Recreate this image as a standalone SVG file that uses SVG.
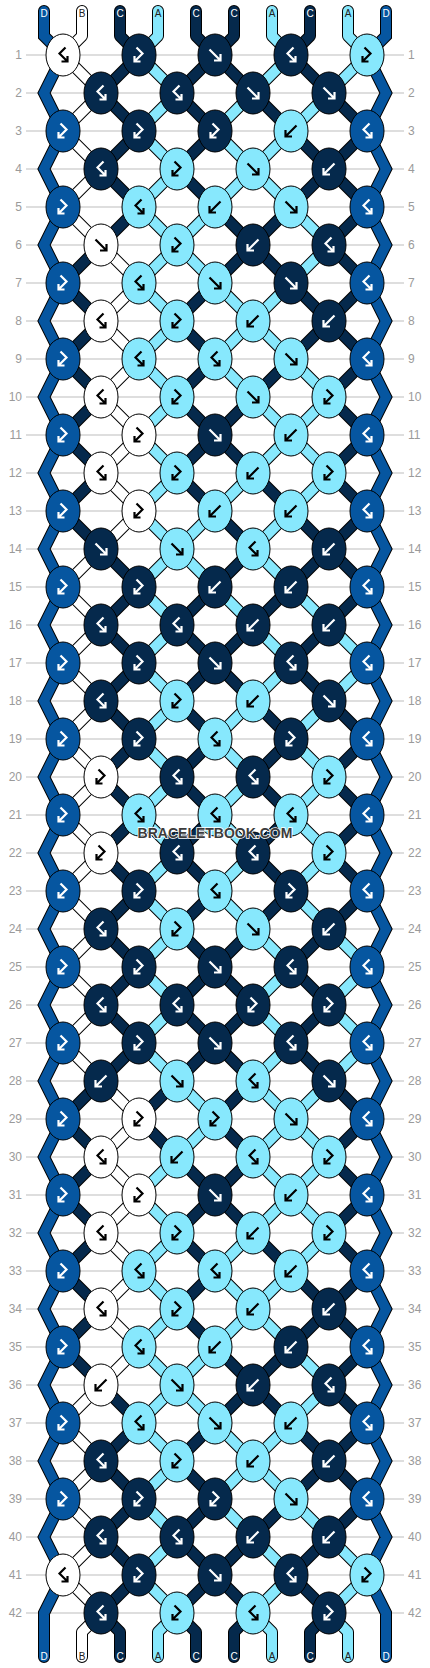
<svg xmlns="http://www.w3.org/2000/svg" xmlns:xlink="http://www.w3.org/1999/xlink" width="430" height="1668" viewBox="0 0 430 1668">
<style>
.grid{stroke:#bdbdbd;stroke-width:1}
.num{font-family:"Liberation Sans",Arial,sans-serif;font-size:12px;fill:#9a9a9a}
.lbl{font-family:"Liberation Sans",Arial,sans-serif;font-size:10px;text-anchor:middle}
.lw{fill:#fff}.lk{fill:#222}
.ol{fill:none;stroke:#000;stroke-width:12}
.olt{fill:none;stroke:#000;stroke-width:12;stroke-linecap:round;stroke-linejoin:round}
.ole{fill:none;stroke:#000;stroke-width:12;stroke-linecap:round;stroke-linejoin:miter}
.s{fill:none;stroke-width:10}
.st{fill:none;stroke-width:10;stroke-linecap:round;stroke-linejoin:round}
.se{fill:none;stroke-width:10;stroke-linecap:round;stroke-linejoin:miter}
.cW{stroke:#fff}.cN{stroke:#05294c}.cL{stroke:#87e8fd}.cB{stroke:#0656a0}
ellipse{stroke:#000;stroke-width:1}
.W{fill:#fff}.N{fill:#05294c}.L{fill:#87e8fd}.B{fill:#0656a0}
.gk,.gw{fill:none;stroke-width:2.2;stroke-linejoin:miter}
.gk{stroke:#000}.gw{stroke:#fff}
.wm{font-family:"Liberation Sans",Arial,sans-serif;font-weight:bold;font-size:14px;text-anchor:middle;fill:#3c3c3c;stroke:#fff;stroke-width:1.6;paint-order:stroke}
</style>
<defs>
<path id="f" d="M-5.5-5.5L4.5 4.5M5.5-1V5.5H-1"/>
<path id="b" d="M5.5-5.5L-4.5 4.5M-5.5-1V5.5H1"/>
<path id="fb" d="M-2.5-7.5L3.5-1.5L-3.5 5.5M-4.5 1V6.5H1.5"/>
<path id="bf" d="M2.5-7.5L-3.5-1.5L3.5 5.5M4.5 1V6.5H-1.5"/>
<path id="pW" d="M63 55l38 38M101 93l-38 38M63 131l38 38M101 169l-38 38M63 207l38 38M101 245l38 38M139 283l-38 38M101 321l38 38M139 359l-38 38M101 397l38 38M139 435l-38 38M101 473l38 38M139 511l-38 38M101 549l-38 38M63 587l38 38M101 625l-38 38M63 663l38 38M101 701l-38 38M63 739l38 38M101 777l-38 38M63 815l38 38M101 853l-38 38M63 891l38 38M101 929l-38 38M63 967l38 38M101 1005l-38 38M63 1043l38 38M101 1081l38 38M139 1119l-38 38M101 1157l38 38M139 1195l-38 38M101 1233l38 38M139 1271l-38 38M101 1309l38 38M139 1347l-38 38M101 1385l-38 38M63 1423l38 38M101 1461l-38 38M63 1499l38 38M101 1537l-38 38M63 1575l38 38"/>
<path id="pN" d="M139 55l-38 38M215 55l-38 38M215 55l38 38M291 55l38 38M101 93l38 38M177 93l38 38M253 93l38 38M329 93l38 38M139 131l-38 38M215 131l-38 38M291 131l38 38M367 131l-38 38M101 169l38 38M177 169l38 38M329 169l-38 38M329 169l38 38M139 207l-38 38M215 207l38 38M291 207l-38 38M367 207l-38 38M101 245l-38 38M253 245l-38 38M253 245l38 38M329 245l38 38M63 283l38 38M215 283l-38 38M291 283l38 38M367 283l-38 38M101 321l-38 38M177 321l38 38M329 321l-38 38M329 321l38 38M63 359l38 38M215 359l-38 38M291 359l-38 38M367 359l-38 38M101 397l-38 38M177 397l38 38M253 397l-38 38M329 397l38 38M63 435l38 38M215 435l-38 38M215 435l38 38M367 435l-38 38M101 473l-38 38M177 473l38 38M253 473l38 38M329 473l38 38M63 511l38 38M215 511l38 38M291 511l38 38M367 511l-38 38M101 549l38 38M253 549l-38 38M329 549l-38 38M329 549l38 38M139 587l-38 38M215 587l-38 38M291 587l-38 38M367 587l-38 38M101 625l38 38M177 625l38 38M253 625l-38 38M329 625l-38 38M139 663l-38 38M215 663l-38 38M215 663l38 38M291 663l38 38M101 701l38 38M177 701l38 38M253 701l38 38M329 701l38 38M139 739l-38 38M215 739l-38 38M291 739l-38 38M367 739l-38 38M101 777l38 38M177 777l38 38M253 777l38 38M329 777l38 38M139 815l-38 38M215 815l-38 38M291 815l-38 38M367 815l-38 38M101 853l38 38M177 853l38 38M253 853l38 38M329 853l38 38M139 891l-38 38M215 891l-38 38M291 891l-38 38M367 891l-38 38M101 929l38 38M177 929l38 38M253 929l-38 38M329 929l-38 38M139 967l-38 38M215 967l-38 38M215 967l38 38M291 967l38 38M101 1005l38 38M177 1005l38 38M253 1005l-38 38M329 1005l-38 38M139 1043l-38 38M215 1043l-38 38M215 1043l38 38M291 1043l38 38M101 1081l-38 38M177 1081l-38 38M253 1081l-38 38M329 1081l38 38M63 1119l38 38M139 1119l38 38M215 1119l38 38M367 1119l-38 38M101 1157l-38 38M177 1157l38 38M253 1157l-38 38M329 1157l38 38M63 1195l38 38M215 1195l-38 38M215 1195l38 38M367 1195l-38 38M101 1233l-38 38M177 1233l38 38M253 1233l38 38M329 1233l38 38M63 1271l38 38M215 1271l-38 38M291 1271l38 38M367 1271l-38 38M101 1309l-38 38M177 1309l38 38M329 1309l-38 38M329 1309l38 38M63 1347l38 38M215 1347l38 38M291 1347l-38 38M367 1347l-38 38M101 1385l38 38M253 1385l-38 38M253 1385l38 38M329 1385l38 38M139 1423l-38 38M215 1423l-38 38M291 1423l38 38M367 1423l-38 38M101 1461l38 38M177 1461l38 38M329 1461l-38 38M329 1461l38 38M139 1499l-38 38M215 1499l-38 38M291 1499l-38 38M367 1499l-38 38M101 1537l38 38M177 1537l38 38M253 1537l-38 38M329 1537l-38 38M139 1575l-38 38M215 1575l-38 38M215 1575l38 38M291 1575l38 38"/>
<path id="pL" d="M139 55l38 38M291 55l-38 38M367 55l-38 38M177 93l-38 38M253 93l-38 38M329 93l-38 38M139 131l38 38M215 131l38 38M291 131l-38 38M177 169l-38 38M253 169l-38 38M253 169l38 38M139 207l38 38M215 207l-38 38M291 207l38 38M177 245l-38 38M177 245l38 38M329 245l-38 38M139 283l38 38M215 283l38 38M291 283l-38 38M177 321l-38 38M253 321l-38 38M253 321l38 38M139 359l38 38M215 359l38 38M291 359l38 38M177 397l-38 38M253 397l38 38M329 397l-38 38M139 435l38 38M291 435l-38 38M291 435l38 38M177 473l-38 38M253 473l-38 38M329 473l-38 38M139 511l38 38M215 511l-38 38M291 511l-38 38M177 549l-38 38M177 549l38 38M253 549l38 38M139 587l38 38M215 587l38 38M291 587l38 38M177 625l-38 38M253 625l38 38M329 625l38 38M139 663l38 38M291 663l-38 38M367 663l-38 38M177 701l-38 38M253 701l-38 38M329 701l-38 38M139 739l38 38M215 739l38 38M291 739l38 38M177 777l-38 38M253 777l-38 38M329 777l-38 38M139 815l38 38M215 815l38 38M291 815l38 38M177 853l-38 38M253 853l-38 38M329 853l-38 38M139 891l38 38M215 891l38 38M291 891l38 38M177 929l-38 38M253 929l38 38M329 929l38 38M139 967l38 38M291 967l-38 38M367 967l-38 38M177 1005l-38 38M253 1005l38 38M329 1005l38 38M139 1043l38 38M291 1043l-38 38M367 1043l-38 38M177 1081l38 38M253 1081l38 38M329 1081l-38 38M215 1119l-38 38M291 1119l-38 38M291 1119l38 38M177 1157l-38 38M253 1157l38 38M329 1157l-38 38M139 1195l38 38M291 1195l-38 38M291 1195l38 38M177 1233l-38 38M253 1233l-38 38M329 1233l-38 38M139 1271l38 38M215 1271l38 38M291 1271l-38 38M177 1309l-38 38M253 1309l-38 38M253 1309l38 38M139 1347l38 38M215 1347l-38 38M291 1347l38 38M177 1385l-38 38M177 1385l38 38M329 1385l-38 38M139 1423l38 38M215 1423l38 38M291 1423l-38 38M177 1461l-38 38M253 1461l-38 38M253 1461l38 38M139 1499l38 38M215 1499l38 38M291 1499l38 38M177 1537l-38 38M253 1537l38 38M329 1537l38 38M139 1575l38 38M291 1575l-38 38M367 1575l-38 38"/>
<path id="tW" d="M82 11V36l-19 19M101 1613l-19 19V1657"/>
<path id="tN" d="M120 11V36l19 19M196 11V36l19 19M234 11V36l-19 19M310 11V36l-19 19M101 1613l19 19V1657M177 1613l19 19V1657M253 1613l-19 19V1657M329 1613l-19 19V1657"/>
<path id="tL" d="M158 11V36l-19 19M272 11V36l19 19M348 11V36l19 19M177 1613l-19 19V1657M253 1613l19 19V1657M329 1613l19 19V1657"/>
<path id="eB" d="M44 11V36l19 19l-19 38l19 38l-19 38l19 38l-19 38l19 38l-19 38l19 38l-19 38l19 38l-19 38l19 38l-19 38l19 38l-19 38l19 38l-19 38l19 38l-19 38l19 38l-19 38l19 38l-19 38l19 38l-19 38l19 38l-19 38l19 38l-19 38l19 38l-19 38l19 38l-19 38l19 38l-19 38l19 38l-19 38l19 38l-19 38l19 38l-19 38V1657M386 11V36l-19 19l19 38l-19 38l19 38l-19 38l19 38l-19 38l19 38l-19 38l19 38l-19 38l19 38l-19 38l19 38l-19 38l19 38l-19 38l19 38l-19 38l19 38l-19 38l19 38l-19 38l19 38l-19 38l19 38l-19 38l19 38l-19 38l19 38l-19 38l19 38l-19 38l19 38l-19 38l19 38l-19 38l19 38l-19 38l19 38l-19 38l19 38V1657"/>
</defs>
<rect width="430" height="1668" fill="#fff"/>
<g id="grid">
<path class="grid" d="M26 55H404M26 93H404M26 131H404M26 169H404M26 207H404M26 245H404M26 283H404M26 321H404M26 359H404M26 397H404M26 435H404M26 473H404M26 511H404M26 549H404M26 587H404M26 625H404M26 663H404M26 701H404M26 739H404M26 777H404M26 815H404M26 853H404M26 891H404M26 929H404M26 967H404M26 1005H404M26 1043H404M26 1081H404M26 1119H404M26 1157H404M26 1195H404M26 1233H404M26 1271H404M26 1309H404M26 1347H404M26 1385H404M26 1423H404M26 1461H404M26 1499H404M26 1537H404M26 1575H404M26 1613H404"/>
</g>
<g id="rownums-left" class="num" text-anchor="end">
<text x="22" y="59">1</text><text x="22" y="97">2</text><text x="22" y="135">3</text><text x="22" y="173">4</text><text x="22" y="211">5</text><text x="22" y="249">6</text><text x="22" y="287">7</text><text x="22" y="325">8</text><text x="22" y="363">9</text><text x="22" y="401">10</text><text x="22" y="439">11</text><text x="22" y="477">12</text><text x="22" y="515">13</text><text x="22" y="553">14</text><text x="22" y="591">15</text><text x="22" y="629">16</text><text x="22" y="667">17</text><text x="22" y="705">18</text><text x="22" y="743">19</text><text x="22" y="781">20</text><text x="22" y="819">21</text><text x="22" y="857">22</text><text x="22" y="895">23</text><text x="22" y="933">24</text><text x="22" y="971">25</text><text x="22" y="1009">26</text><text x="22" y="1047">27</text><text x="22" y="1085">28</text><text x="22" y="1123">29</text><text x="22" y="1161">30</text><text x="22" y="1199">31</text><text x="22" y="1237">32</text><text x="22" y="1275">33</text><text x="22" y="1313">34</text><text x="22" y="1351">35</text><text x="22" y="1389">36</text><text x="22" y="1427">37</text><text x="22" y="1465">38</text><text x="22" y="1503">39</text><text x="22" y="1541">40</text><text x="22" y="1579">41</text><text x="22" y="1617">42</text>
</g>
<g id="rownums-right" class="num" text-anchor="start">
<text x="408" y="59">1</text><text x="408" y="97">2</text><text x="408" y="135">3</text><text x="408" y="173">4</text><text x="408" y="211">5</text><text x="408" y="249">6</text><text x="408" y="287">7</text><text x="408" y="325">8</text><text x="408" y="363">9</text><text x="408" y="401">10</text><text x="408" y="439">11</text><text x="408" y="477">12</text><text x="408" y="515">13</text><text x="408" y="553">14</text><text x="408" y="591">15</text><text x="408" y="629">16</text><text x="408" y="667">17</text><text x="408" y="705">18</text><text x="408" y="743">19</text><text x="408" y="781">20</text><text x="408" y="819">21</text><text x="408" y="857">22</text><text x="408" y="895">23</text><text x="408" y="933">24</text><text x="408" y="971">25</text><text x="408" y="1009">26</text><text x="408" y="1047">27</text><text x="408" y="1085">28</text><text x="408" y="1123">29</text><text x="408" y="1161">30</text><text x="408" y="1199">31</text><text x="408" y="1237">32</text><text x="408" y="1275">33</text><text x="408" y="1313">34</text><text x="408" y="1351">35</text><text x="408" y="1389">36</text><text x="408" y="1427">37</text><text x="408" y="1465">38</text><text x="408" y="1503">39</text><text x="408" y="1541">40</text><text x="408" y="1579">41</text><text x="408" y="1617">42</text>
</g>
<g id="connectors">
<use href="#pW" class="ol"/><use href="#pN" class="ol"/><use href="#pL" class="ol"/>
<use href="#tW" class="olt"/><use href="#tN" class="olt"/><use href="#tL" class="olt"/>
<use href="#eB" class="ole"/>
<use href="#pW" class="s cW"/><use href="#pN" class="s cN"/><use href="#pL" class="s cL"/>
<use href="#tW" class="st cW"/><use href="#tN" class="st cN"/><use href="#tL" class="st cL"/>
<use href="#eB" class="se cB"/>
</g>
<g id="string-labels" class="lbl">
<text class="lw" x="44" y="17">D</text><text class="lk" x="82" y="17">B</text><text class="lw" x="120" y="17">C</text><text class="lk" x="158" y="17">A</text><text class="lw" x="196" y="17">C</text><text class="lw" x="234" y="17">C</text><text class="lk" x="272" y="17">A</text><text class="lw" x="310" y="17">C</text><text class="lk" x="348" y="17">A</text><text class="lw" x="386" y="17">D</text>
<text class="lw" x="44" y="1660">D</text><text class="lk" x="82" y="1660">B</text><text class="lw" x="120" y="1660">C</text><text class="lk" x="158" y="1660">A</text><text class="lw" x="196" y="1660">C</text><text class="lw" x="234" y="1660">C</text><text class="lk" x="272" y="1660">A</text><text class="lw" x="310" y="1660">C</text><text class="lk" x="348" y="1660">A</text><text class="lw" x="386" y="1660">D</text>
</g>
<g id="knots">
<g id="k1_1"><ellipse class="W" cx="63" cy="55" rx="17" ry="21"/><use href="#bf" class="gk" x="63" y="55"/></g>
<g id="k1_2"><ellipse class="N" cx="139" cy="55" rx="17" ry="21"/><use href="#fb" class="gw" x="139" y="55"/></g>
<g id="k1_3"><ellipse class="N" cx="215" cy="55" rx="17" ry="21"/><use href="#f" class="gw" x="215" y="55"/></g>
<g id="k1_4"><ellipse class="N" cx="291" cy="55" rx="17" ry="21"/><use href="#bf" class="gw" x="291" y="55"/></g>
<g id="k1_5"><ellipse class="L" cx="367" cy="55" rx="17" ry="21"/><use href="#fb" class="gk" x="367" y="55"/></g>
<g id="k2_1"><ellipse class="N" cx="101" cy="93" rx="17" ry="21"/><use href="#bf" class="gw" x="101" y="93"/></g>
<g id="k2_2"><ellipse class="N" cx="177" cy="93" rx="17" ry="21"/><use href="#bf" class="gw" x="177" y="93"/></g>
<g id="k2_3"><ellipse class="N" cx="253" cy="93" rx="17" ry="21"/><use href="#f" class="gw" x="253" y="93"/></g>
<g id="k2_4"><ellipse class="N" cx="329" cy="93" rx="17" ry="21"/><use href="#f" class="gw" x="329" y="93"/></g>
<g id="k3_1"><ellipse class="B" cx="63" cy="131" rx="17" ry="21"/><use href="#fb" class="gw" x="63" y="131"/></g>
<g id="k3_2"><ellipse class="N" cx="139" cy="131" rx="17" ry="21"/><use href="#fb" class="gw" x="139" y="131"/></g>
<g id="k3_3"><ellipse class="N" cx="215" cy="131" rx="17" ry="21"/><use href="#fb" class="gw" x="215" y="131"/></g>
<g id="k3_4"><ellipse class="L" cx="291" cy="131" rx="17" ry="21"/><use href="#b" class="gk" x="291" y="131"/></g>
<g id="k3_5"><ellipse class="B" cx="367" cy="131" rx="17" ry="21"/><use href="#bf" class="gw" x="367" y="131"/></g>
<g id="k4_1"><ellipse class="N" cx="101" cy="169" rx="17" ry="21"/><use href="#bf" class="gw" x="101" y="169"/></g>
<g id="k4_2"><ellipse class="L" cx="177" cy="169" rx="17" ry="21"/><use href="#fb" class="gk" x="177" y="169"/></g>
<g id="k4_3"><ellipse class="L" cx="253" cy="169" rx="17" ry="21"/><use href="#f" class="gk" x="253" y="169"/></g>
<g id="k4_4"><ellipse class="N" cx="329" cy="169" rx="17" ry="21"/><use href="#b" class="gw" x="329" y="169"/></g>
<g id="k5_1"><ellipse class="B" cx="63" cy="207" rx="17" ry="21"/><use href="#fb" class="gw" x="63" y="207"/></g>
<g id="k5_2"><ellipse class="L" cx="139" cy="207" rx="17" ry="21"/><use href="#bf" class="gk" x="139" y="207"/></g>
<g id="k5_3"><ellipse class="L" cx="215" cy="207" rx="17" ry="21"/><use href="#b" class="gk" x="215" y="207"/></g>
<g id="k5_4"><ellipse class="L" cx="291" cy="207" rx="17" ry="21"/><use href="#f" class="gk" x="291" y="207"/></g>
<g id="k5_5"><ellipse class="B" cx="367" cy="207" rx="17" ry="21"/><use href="#bf" class="gw" x="367" y="207"/></g>
<g id="k6_1"><ellipse class="W" cx="101" cy="245" rx="17" ry="21"/><use href="#f" class="gk" x="101" y="245"/></g>
<g id="k6_2"><ellipse class="L" cx="177" cy="245" rx="17" ry="21"/><use href="#fb" class="gk" x="177" y="245"/></g>
<g id="k6_3"><ellipse class="N" cx="253" cy="245" rx="17" ry="21"/><use href="#b" class="gw" x="253" y="245"/></g>
<g id="k6_4"><ellipse class="N" cx="329" cy="245" rx="17" ry="21"/><use href="#bf" class="gw" x="329" y="245"/></g>
<g id="k7_1"><ellipse class="B" cx="63" cy="283" rx="17" ry="21"/><use href="#fb" class="gw" x="63" y="283"/></g>
<g id="k7_2"><ellipse class="L" cx="139" cy="283" rx="17" ry="21"/><use href="#bf" class="gk" x="139" y="283"/></g>
<g id="k7_3"><ellipse class="L" cx="215" cy="283" rx="17" ry="21"/><use href="#f" class="gk" x="215" y="283"/></g>
<g id="k7_4"><ellipse class="N" cx="291" cy="283" rx="17" ry="21"/><use href="#f" class="gw" x="291" y="283"/></g>
<g id="k7_5"><ellipse class="B" cx="367" cy="283" rx="17" ry="21"/><use href="#bf" class="gw" x="367" y="283"/></g>
<g id="k8_1"><ellipse class="W" cx="101" cy="321" rx="17" ry="21"/><use href="#bf" class="gk" x="101" y="321"/></g>
<g id="k8_2"><ellipse class="L" cx="177" cy="321" rx="17" ry="21"/><use href="#fb" class="gk" x="177" y="321"/></g>
<g id="k8_3"><ellipse class="L" cx="253" cy="321" rx="17" ry="21"/><use href="#b" class="gk" x="253" y="321"/></g>
<g id="k8_4"><ellipse class="N" cx="329" cy="321" rx="17" ry="21"/><use href="#b" class="gw" x="329" y="321"/></g>
<g id="k9_1"><ellipse class="B" cx="63" cy="359" rx="17" ry="21"/><use href="#fb" class="gw" x="63" y="359"/></g>
<g id="k9_2"><ellipse class="L" cx="139" cy="359" rx="17" ry="21"/><use href="#bf" class="gk" x="139" y="359"/></g>
<g id="k9_3"><ellipse class="L" cx="215" cy="359" rx="17" ry="21"/><use href="#bf" class="gk" x="215" y="359"/></g>
<g id="k9_4"><ellipse class="L" cx="291" cy="359" rx="17" ry="21"/><use href="#f" class="gk" x="291" y="359"/></g>
<g id="k9_5"><ellipse class="B" cx="367" cy="359" rx="17" ry="21"/><use href="#bf" class="gw" x="367" y="359"/></g>
<g id="k10_1"><ellipse class="W" cx="101" cy="397" rx="17" ry="21"/><use href="#bf" class="gk" x="101" y="397"/></g>
<g id="k10_2"><ellipse class="L" cx="177" cy="397" rx="17" ry="21"/><use href="#fb" class="gk" x="177" y="397"/></g>
<g id="k10_3"><ellipse class="L" cx="253" cy="397" rx="17" ry="21"/><use href="#f" class="gk" x="253" y="397"/></g>
<g id="k10_4"><ellipse class="L" cx="329" cy="397" rx="17" ry="21"/><use href="#fb" class="gk" x="329" y="397"/></g>
<g id="k11_1"><ellipse class="B" cx="63" cy="435" rx="17" ry="21"/><use href="#fb" class="gw" x="63" y="435"/></g>
<g id="k11_2"><ellipse class="W" cx="139" cy="435" rx="17" ry="21"/><use href="#fb" class="gk" x="139" y="435"/></g>
<g id="k11_3"><ellipse class="N" cx="215" cy="435" rx="17" ry="21"/><use href="#f" class="gw" x="215" y="435"/></g>
<g id="k11_4"><ellipse class="L" cx="291" cy="435" rx="17" ry="21"/><use href="#b" class="gk" x="291" y="435"/></g>
<g id="k11_5"><ellipse class="B" cx="367" cy="435" rx="17" ry="21"/><use href="#bf" class="gw" x="367" y="435"/></g>
<g id="k12_1"><ellipse class="W" cx="101" cy="473" rx="17" ry="21"/><use href="#bf" class="gk" x="101" y="473"/></g>
<g id="k12_2"><ellipse class="L" cx="177" cy="473" rx="17" ry="21"/><use href="#fb" class="gk" x="177" y="473"/></g>
<g id="k12_3"><ellipse class="L" cx="253" cy="473" rx="17" ry="21"/><use href="#b" class="gk" x="253" y="473"/></g>
<g id="k12_4"><ellipse class="L" cx="329" cy="473" rx="17" ry="21"/><use href="#fb" class="gk" x="329" y="473"/></g>
<g id="k13_1"><ellipse class="B" cx="63" cy="511" rx="17" ry="21"/><use href="#fb" class="gw" x="63" y="511"/></g>
<g id="k13_2"><ellipse class="W" cx="139" cy="511" rx="17" ry="21"/><use href="#fb" class="gk" x="139" y="511"/></g>
<g id="k13_3"><ellipse class="L" cx="215" cy="511" rx="17" ry="21"/><use href="#b" class="gk" x="215" y="511"/></g>
<g id="k13_4"><ellipse class="L" cx="291" cy="511" rx="17" ry="21"/><use href="#b" class="gk" x="291" y="511"/></g>
<g id="k13_5"><ellipse class="B" cx="367" cy="511" rx="17" ry="21"/><use href="#bf" class="gw" x="367" y="511"/></g>
<g id="k14_1"><ellipse class="N" cx="101" cy="549" rx="17" ry="21"/><use href="#f" class="gw" x="101" y="549"/></g>
<g id="k14_2"><ellipse class="L" cx="177" cy="549" rx="17" ry="21"/><use href="#f" class="gk" x="177" y="549"/></g>
<g id="k14_3"><ellipse class="L" cx="253" cy="549" rx="17" ry="21"/><use href="#bf" class="gk" x="253" y="549"/></g>
<g id="k14_4"><ellipse class="N" cx="329" cy="549" rx="17" ry="21"/><use href="#b" class="gw" x="329" y="549"/></g>
<g id="k15_1"><ellipse class="B" cx="63" cy="587" rx="17" ry="21"/><use href="#fb" class="gw" x="63" y="587"/></g>
<g id="k15_2"><ellipse class="N" cx="139" cy="587" rx="17" ry="21"/><use href="#fb" class="gw" x="139" y="587"/></g>
<g id="k15_3"><ellipse class="N" cx="215" cy="587" rx="17" ry="21"/><use href="#b" class="gw" x="215" y="587"/></g>
<g id="k15_4"><ellipse class="N" cx="291" cy="587" rx="17" ry="21"/><use href="#b" class="gw" x="291" y="587"/></g>
<g id="k15_5"><ellipse class="B" cx="367" cy="587" rx="17" ry="21"/><use href="#bf" class="gw" x="367" y="587"/></g>
<g id="k16_1"><ellipse class="N" cx="101" cy="625" rx="17" ry="21"/><use href="#bf" class="gw" x="101" y="625"/></g>
<g id="k16_2"><ellipse class="N" cx="177" cy="625" rx="17" ry="21"/><use href="#bf" class="gw" x="177" y="625"/></g>
<g id="k16_3"><ellipse class="N" cx="253" cy="625" rx="17" ry="21"/><use href="#b" class="gw" x="253" y="625"/></g>
<g id="k16_4"><ellipse class="N" cx="329" cy="625" rx="17" ry="21"/><use href="#b" class="gw" x="329" y="625"/></g>
<g id="k17_1"><ellipse class="B" cx="63" cy="663" rx="17" ry="21"/><use href="#fb" class="gw" x="63" y="663"/></g>
<g id="k17_2"><ellipse class="N" cx="139" cy="663" rx="17" ry="21"/><use href="#fb" class="gw" x="139" y="663"/></g>
<g id="k17_3"><ellipse class="N" cx="215" cy="663" rx="17" ry="21"/><use href="#f" class="gw" x="215" y="663"/></g>
<g id="k17_4"><ellipse class="N" cx="291" cy="663" rx="17" ry="21"/><use href="#bf" class="gw" x="291" y="663"/></g>
<g id="k17_5"><ellipse class="B" cx="367" cy="663" rx="17" ry="21"/><use href="#bf" class="gw" x="367" y="663"/></g>
<g id="k18_1"><ellipse class="N" cx="101" cy="701" rx="17" ry="21"/><use href="#bf" class="gw" x="101" y="701"/></g>
<g id="k18_2"><ellipse class="L" cx="177" cy="701" rx="17" ry="21"/><use href="#fb" class="gk" x="177" y="701"/></g>
<g id="k18_3"><ellipse class="L" cx="253" cy="701" rx="17" ry="21"/><use href="#b" class="gk" x="253" y="701"/></g>
<g id="k18_4"><ellipse class="N" cx="329" cy="701" rx="17" ry="21"/><use href="#f" class="gw" x="329" y="701"/></g>
<g id="k19_1"><ellipse class="B" cx="63" cy="739" rx="17" ry="21"/><use href="#fb" class="gw" x="63" y="739"/></g>
<g id="k19_2"><ellipse class="N" cx="139" cy="739" rx="17" ry="21"/><use href="#fb" class="gw" x="139" y="739"/></g>
<g id="k19_3"><ellipse class="L" cx="215" cy="739" rx="17" ry="21"/><use href="#bf" class="gk" x="215" y="739"/></g>
<g id="k19_4"><ellipse class="N" cx="291" cy="739" rx="17" ry="21"/><use href="#fb" class="gw" x="291" y="739"/></g>
<g id="k19_5"><ellipse class="B" cx="367" cy="739" rx="17" ry="21"/><use href="#bf" class="gw" x="367" y="739"/></g>
<g id="k20_1"><ellipse class="W" cx="101" cy="777" rx="17" ry="21"/><use href="#fb" class="gk" x="101" y="777"/></g>
<g id="k20_2"><ellipse class="N" cx="177" cy="777" rx="17" ry="21"/><use href="#bf" class="gw" x="177" y="777"/></g>
<g id="k20_3"><ellipse class="N" cx="253" cy="777" rx="17" ry="21"/><use href="#bf" class="gw" x="253" y="777"/></g>
<g id="k20_4"><ellipse class="L" cx="329" cy="777" rx="17" ry="21"/><use href="#fb" class="gk" x="329" y="777"/></g>
<g id="k21_1"><ellipse class="B" cx="63" cy="815" rx="17" ry="21"/><use href="#fb" class="gw" x="63" y="815"/></g>
<g id="k21_2"><ellipse class="L" cx="139" cy="815" rx="17" ry="21"/><use href="#bf" class="gk" x="139" y="815"/></g>
<g id="k21_3"><ellipse class="L" cx="215" cy="815" rx="17" ry="21"/><use href="#bf" class="gk" x="215" y="815"/></g>
<g id="k21_4"><ellipse class="L" cx="291" cy="815" rx="17" ry="21"/><use href="#bf" class="gk" x="291" y="815"/></g>
<g id="k21_5"><ellipse class="B" cx="367" cy="815" rx="17" ry="21"/><use href="#bf" class="gw" x="367" y="815"/></g>
<g id="k22_1"><ellipse class="W" cx="101" cy="853" rx="17" ry="21"/><use href="#fb" class="gk" x="101" y="853"/></g>
<g id="k22_2"><ellipse class="N" cx="177" cy="853" rx="17" ry="21"/><use href="#bf" class="gw" x="177" y="853"/></g>
<g id="k22_3"><ellipse class="N" cx="253" cy="853" rx="17" ry="21"/><use href="#bf" class="gw" x="253" y="853"/></g>
<g id="k22_4"><ellipse class="L" cx="329" cy="853" rx="17" ry="21"/><use href="#fb" class="gk" x="329" y="853"/></g>
<g id="k23_1"><ellipse class="B" cx="63" cy="891" rx="17" ry="21"/><use href="#fb" class="gw" x="63" y="891"/></g>
<g id="k23_2"><ellipse class="N" cx="139" cy="891" rx="17" ry="21"/><use href="#fb" class="gw" x="139" y="891"/></g>
<g id="k23_3"><ellipse class="L" cx="215" cy="891" rx="17" ry="21"/><use href="#bf" class="gk" x="215" y="891"/></g>
<g id="k23_4"><ellipse class="N" cx="291" cy="891" rx="17" ry="21"/><use href="#fb" class="gw" x="291" y="891"/></g>
<g id="k23_5"><ellipse class="B" cx="367" cy="891" rx="17" ry="21"/><use href="#bf" class="gw" x="367" y="891"/></g>
<g id="k24_1"><ellipse class="N" cx="101" cy="929" rx="17" ry="21"/><use href="#bf" class="gw" x="101" y="929"/></g>
<g id="k24_2"><ellipse class="L" cx="177" cy="929" rx="17" ry="21"/><use href="#fb" class="gk" x="177" y="929"/></g>
<g id="k24_3"><ellipse class="L" cx="253" cy="929" rx="17" ry="21"/><use href="#f" class="gk" x="253" y="929"/></g>
<g id="k24_4"><ellipse class="N" cx="329" cy="929" rx="17" ry="21"/><use href="#b" class="gw" x="329" y="929"/></g>
<g id="k25_1"><ellipse class="B" cx="63" cy="967" rx="17" ry="21"/><use href="#fb" class="gw" x="63" y="967"/></g>
<g id="k25_2"><ellipse class="N" cx="139" cy="967" rx="17" ry="21"/><use href="#fb" class="gw" x="139" y="967"/></g>
<g id="k25_3"><ellipse class="N" cx="215" cy="967" rx="17" ry="21"/><use href="#f" class="gw" x="215" y="967"/></g>
<g id="k25_4"><ellipse class="N" cx="291" cy="967" rx="17" ry="21"/><use href="#bf" class="gw" x="291" y="967"/></g>
<g id="k25_5"><ellipse class="B" cx="367" cy="967" rx="17" ry="21"/><use href="#bf" class="gw" x="367" y="967"/></g>
<g id="k26_1"><ellipse class="N" cx="101" cy="1005" rx="17" ry="21"/><use href="#bf" class="gw" x="101" y="1005"/></g>
<g id="k26_2"><ellipse class="N" cx="177" cy="1005" rx="17" ry="21"/><use href="#bf" class="gw" x="177" y="1005"/></g>
<g id="k26_3"><ellipse class="N" cx="253" cy="1005" rx="17" ry="21"/><use href="#fb" class="gw" x="253" y="1005"/></g>
<g id="k26_4"><ellipse class="N" cx="329" cy="1005" rx="17" ry="21"/><use href="#fb" class="gw" x="329" y="1005"/></g>
<g id="k27_1"><ellipse class="B" cx="63" cy="1043" rx="17" ry="21"/><use href="#fb" class="gw" x="63" y="1043"/></g>
<g id="k27_2"><ellipse class="N" cx="139" cy="1043" rx="17" ry="21"/><use href="#fb" class="gw" x="139" y="1043"/></g>
<g id="k27_3"><ellipse class="N" cx="215" cy="1043" rx="17" ry="21"/><use href="#f" class="gw" x="215" y="1043"/></g>
<g id="k27_4"><ellipse class="N" cx="291" cy="1043" rx="17" ry="21"/><use href="#bf" class="gw" x="291" y="1043"/></g>
<g id="k27_5"><ellipse class="B" cx="367" cy="1043" rx="17" ry="21"/><use href="#bf" class="gw" x="367" y="1043"/></g>
<g id="k28_1"><ellipse class="N" cx="101" cy="1081" rx="17" ry="21"/><use href="#b" class="gw" x="101" y="1081"/></g>
<g id="k28_2"><ellipse class="L" cx="177" cy="1081" rx="17" ry="21"/><use href="#f" class="gk" x="177" y="1081"/></g>
<g id="k28_3"><ellipse class="L" cx="253" cy="1081" rx="17" ry="21"/><use href="#bf" class="gk" x="253" y="1081"/></g>
<g id="k28_4"><ellipse class="N" cx="329" cy="1081" rx="17" ry="21"/><use href="#f" class="gw" x="329" y="1081"/></g>
<g id="k29_1"><ellipse class="B" cx="63" cy="1119" rx="17" ry="21"/><use href="#fb" class="gw" x="63" y="1119"/></g>
<g id="k29_2"><ellipse class="W" cx="139" cy="1119" rx="17" ry="21"/><use href="#fb" class="gk" x="139" y="1119"/></g>
<g id="k29_3"><ellipse class="L" cx="215" cy="1119" rx="17" ry="21"/><use href="#fb" class="gk" x="215" y="1119"/></g>
<g id="k29_4"><ellipse class="L" cx="291" cy="1119" rx="17" ry="21"/><use href="#f" class="gk" x="291" y="1119"/></g>
<g id="k29_5"><ellipse class="B" cx="367" cy="1119" rx="17" ry="21"/><use href="#bf" class="gw" x="367" y="1119"/></g>
<g id="k30_1"><ellipse class="W" cx="101" cy="1157" rx="17" ry="21"/><use href="#bf" class="gk" x="101" y="1157"/></g>
<g id="k30_2"><ellipse class="L" cx="177" cy="1157" rx="17" ry="21"/><use href="#b" class="gk" x="177" y="1157"/></g>
<g id="k30_3"><ellipse class="L" cx="253" cy="1157" rx="17" ry="21"/><use href="#bf" class="gk" x="253" y="1157"/></g>
<g id="k30_4"><ellipse class="L" cx="329" cy="1157" rx="17" ry="21"/><use href="#fb" class="gk" x="329" y="1157"/></g>
<g id="k31_1"><ellipse class="B" cx="63" cy="1195" rx="17" ry="21"/><use href="#fb" class="gw" x="63" y="1195"/></g>
<g id="k31_2"><ellipse class="W" cx="139" cy="1195" rx="17" ry="21"/><use href="#fb" class="gk" x="139" y="1195"/></g>
<g id="k31_3"><ellipse class="N" cx="215" cy="1195" rx="17" ry="21"/><use href="#f" class="gw" x="215" y="1195"/></g>
<g id="k31_4"><ellipse class="L" cx="291" cy="1195" rx="17" ry="21"/><use href="#b" class="gk" x="291" y="1195"/></g>
<g id="k31_5"><ellipse class="B" cx="367" cy="1195" rx="17" ry="21"/><use href="#bf" class="gw" x="367" y="1195"/></g>
<g id="k32_1"><ellipse class="W" cx="101" cy="1233" rx="17" ry="21"/><use href="#bf" class="gk" x="101" y="1233"/></g>
<g id="k32_2"><ellipse class="L" cx="177" cy="1233" rx="17" ry="21"/><use href="#fb" class="gk" x="177" y="1233"/></g>
<g id="k32_3"><ellipse class="L" cx="253" cy="1233" rx="17" ry="21"/><use href="#b" class="gk" x="253" y="1233"/></g>
<g id="k32_4"><ellipse class="L" cx="329" cy="1233" rx="17" ry="21"/><use href="#fb" class="gk" x="329" y="1233"/></g>
<g id="k33_1"><ellipse class="B" cx="63" cy="1271" rx="17" ry="21"/><use href="#fb" class="gw" x="63" y="1271"/></g>
<g id="k33_2"><ellipse class="L" cx="139" cy="1271" rx="17" ry="21"/><use href="#bf" class="gk" x="139" y="1271"/></g>
<g id="k33_3"><ellipse class="L" cx="215" cy="1271" rx="17" ry="21"/><use href="#bf" class="gk" x="215" y="1271"/></g>
<g id="k33_4"><ellipse class="L" cx="291" cy="1271" rx="17" ry="21"/><use href="#b" class="gk" x="291" y="1271"/></g>
<g id="k33_5"><ellipse class="B" cx="367" cy="1271" rx="17" ry="21"/><use href="#bf" class="gw" x="367" y="1271"/></g>
<g id="k34_1"><ellipse class="W" cx="101" cy="1309" rx="17" ry="21"/><use href="#bf" class="gk" x="101" y="1309"/></g>
<g id="k34_2"><ellipse class="L" cx="177" cy="1309" rx="17" ry="21"/><use href="#fb" class="gk" x="177" y="1309"/></g>
<g id="k34_3"><ellipse class="L" cx="253" cy="1309" rx="17" ry="21"/><use href="#b" class="gk" x="253" y="1309"/></g>
<g id="k34_4"><ellipse class="N" cx="329" cy="1309" rx="17" ry="21"/><use href="#b" class="gw" x="329" y="1309"/></g>
<g id="k35_1"><ellipse class="B" cx="63" cy="1347" rx="17" ry="21"/><use href="#fb" class="gw" x="63" y="1347"/></g>
<g id="k35_2"><ellipse class="L" cx="139" cy="1347" rx="17" ry="21"/><use href="#bf" class="gk" x="139" y="1347"/></g>
<g id="k35_3"><ellipse class="L" cx="215" cy="1347" rx="17" ry="21"/><use href="#b" class="gk" x="215" y="1347"/></g>
<g id="k35_4"><ellipse class="N" cx="291" cy="1347" rx="17" ry="21"/><use href="#b" class="gw" x="291" y="1347"/></g>
<g id="k35_5"><ellipse class="B" cx="367" cy="1347" rx="17" ry="21"/><use href="#bf" class="gw" x="367" y="1347"/></g>
<g id="k36_1"><ellipse class="W" cx="101" cy="1385" rx="17" ry="21"/><use href="#b" class="gk" x="101" y="1385"/></g>
<g id="k36_2"><ellipse class="L" cx="177" cy="1385" rx="17" ry="21"/><use href="#f" class="gk" x="177" y="1385"/></g>
<g id="k36_3"><ellipse class="N" cx="253" cy="1385" rx="17" ry="21"/><use href="#b" class="gw" x="253" y="1385"/></g>
<g id="k36_4"><ellipse class="N" cx="329" cy="1385" rx="17" ry="21"/><use href="#bf" class="gw" x="329" y="1385"/></g>
<g id="k37_1"><ellipse class="B" cx="63" cy="1423" rx="17" ry="21"/><use href="#fb" class="gw" x="63" y="1423"/></g>
<g id="k37_2"><ellipse class="L" cx="139" cy="1423" rx="17" ry="21"/><use href="#bf" class="gk" x="139" y="1423"/></g>
<g id="k37_3"><ellipse class="L" cx="215" cy="1423" rx="17" ry="21"/><use href="#f" class="gk" x="215" y="1423"/></g>
<g id="k37_4"><ellipse class="L" cx="291" cy="1423" rx="17" ry="21"/><use href="#b" class="gk" x="291" y="1423"/></g>
<g id="k37_5"><ellipse class="B" cx="367" cy="1423" rx="17" ry="21"/><use href="#bf" class="gw" x="367" y="1423"/></g>
<g id="k38_1"><ellipse class="N" cx="101" cy="1461" rx="17" ry="21"/><use href="#bf" class="gw" x="101" y="1461"/></g>
<g id="k38_2"><ellipse class="L" cx="177" cy="1461" rx="17" ry="21"/><use href="#fb" class="gk" x="177" y="1461"/></g>
<g id="k38_3"><ellipse class="L" cx="253" cy="1461" rx="17" ry="21"/><use href="#b" class="gk" x="253" y="1461"/></g>
<g id="k38_4"><ellipse class="N" cx="329" cy="1461" rx="17" ry="21"/><use href="#b" class="gw" x="329" y="1461"/></g>
<g id="k39_1"><ellipse class="B" cx="63" cy="1499" rx="17" ry="21"/><use href="#fb" class="gw" x="63" y="1499"/></g>
<g id="k39_2"><ellipse class="N" cx="139" cy="1499" rx="17" ry="21"/><use href="#fb" class="gw" x="139" y="1499"/></g>
<g id="k39_3"><ellipse class="N" cx="215" cy="1499" rx="17" ry="21"/><use href="#fb" class="gw" x="215" y="1499"/></g>
<g id="k39_4"><ellipse class="L" cx="291" cy="1499" rx="17" ry="21"/><use href="#f" class="gk" x="291" y="1499"/></g>
<g id="k39_5"><ellipse class="B" cx="367" cy="1499" rx="17" ry="21"/><use href="#bf" class="gw" x="367" y="1499"/></g>
<g id="k40_1"><ellipse class="N" cx="101" cy="1537" rx="17" ry="21"/><use href="#bf" class="gw" x="101" y="1537"/></g>
<g id="k40_2"><ellipse class="N" cx="177" cy="1537" rx="17" ry="21"/><use href="#bf" class="gw" x="177" y="1537"/></g>
<g id="k40_3"><ellipse class="N" cx="253" cy="1537" rx="17" ry="21"/><use href="#b" class="gw" x="253" y="1537"/></g>
<g id="k40_4"><ellipse class="N" cx="329" cy="1537" rx="17" ry="21"/><use href="#b" class="gw" x="329" y="1537"/></g>
<g id="k41_1"><ellipse class="W" cx="63" cy="1575" rx="17" ry="21"/><use href="#bf" class="gk" x="63" y="1575"/></g>
<g id="k41_2"><ellipse class="N" cx="139" cy="1575" rx="17" ry="21"/><use href="#fb" class="gw" x="139" y="1575"/></g>
<g id="k41_3"><ellipse class="N" cx="215" cy="1575" rx="17" ry="21"/><use href="#f" class="gw" x="215" y="1575"/></g>
<g id="k41_4"><ellipse class="N" cx="291" cy="1575" rx="17" ry="21"/><use href="#bf" class="gw" x="291" y="1575"/></g>
<g id="k41_5"><ellipse class="L" cx="367" cy="1575" rx="17" ry="21"/><use href="#fb" class="gk" x="367" y="1575"/></g>
<g id="k42_1"><ellipse class="N" cx="101" cy="1613" rx="17" ry="21"/><use href="#bf" class="gw" x="101" y="1613"/></g>
<g id="k42_2"><ellipse class="L" cx="177" cy="1613" rx="17" ry="21"/><use href="#fb" class="gk" x="177" y="1613"/></g>
<g id="k42_3"><ellipse class="L" cx="253" cy="1613" rx="17" ry="21"/><use href="#bf" class="gk" x="253" y="1613"/></g>
<g id="k42_4"><ellipse class="N" cx="329" cy="1613" rx="17" ry="21"/><use href="#fb" class="gw" x="329" y="1613"/></g>
</g>
<text id="watermark" class="wm" x="215" y="838">BRACELETBOOK.COM</text>
</svg>
